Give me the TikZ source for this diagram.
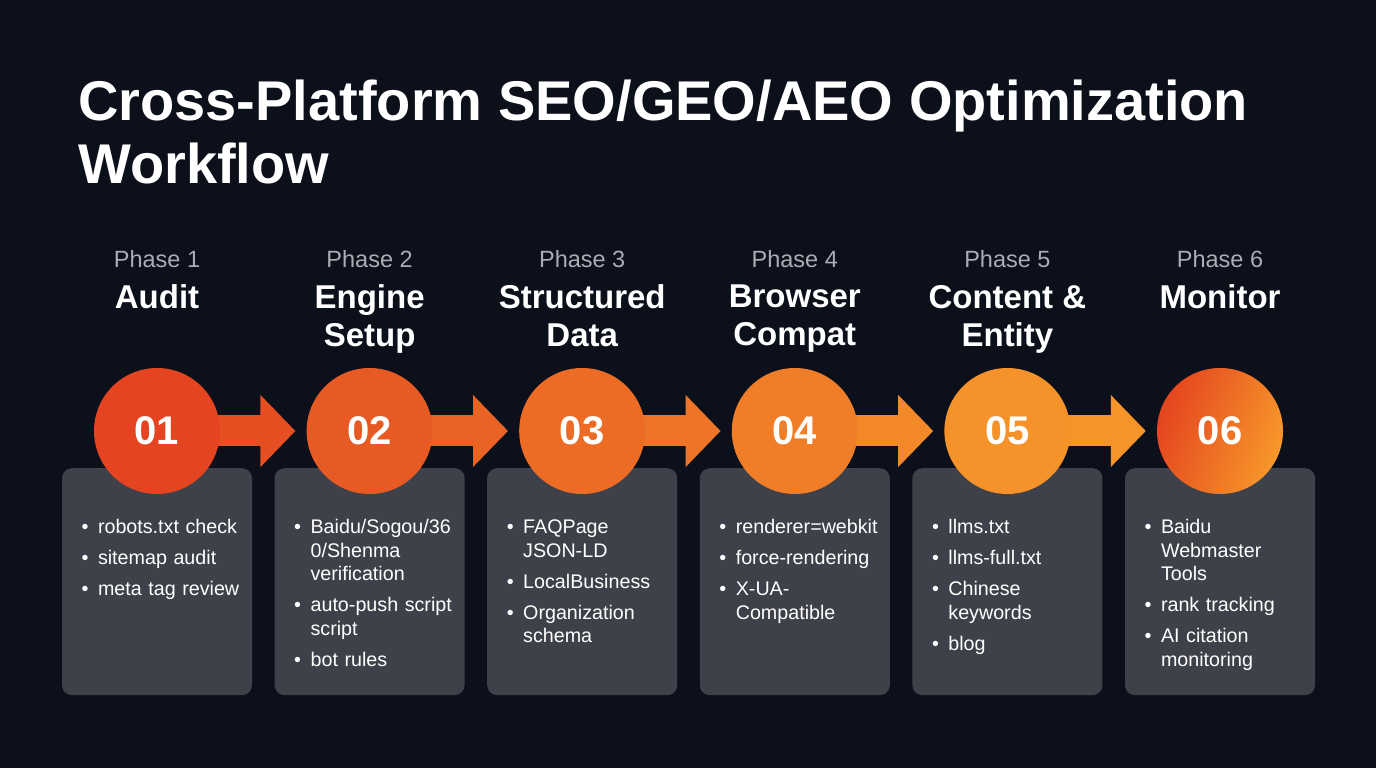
\documentclass[tikz,border=0pt]{standalone}
\usepackage{fontspec}
\setmainfont{Liberation Sans}
\usepackage{enumitem}
\usetikzlibrary{arrows.meta, positioning, backgrounds}
\definecolor{nightbg}{RGB}{12,16,27}
\definecolor{cardgrey}{RGB}{62,65,73}
\definecolor{phasegrey}{RGB}{170,173,180}
\definecolor{ornA}{RGB}{228,68,31}
\definecolor{ornB}{RGB}{232,90,36}
\definecolor{ornC}{RGB}{236,108,38}
\definecolor{ornD}{RGB}{240,126,40}
\definecolor{ornE}{RGB}{245,146,42}
\definecolor{ornF}{RGB}{247,152,42}
\newcommand{\tasklist}[1]{\raggedright\begin{itemize}[leftmargin=14pt, labelsep=9.5pt, itemsep=7.5pt, parsep=0pt, topsep=0pt, partopsep=0pt, label=\textbullet]#1\end{itemize}}

\begin{document}
\begin{tikzpicture}[
  x=1pt, y=1pt,
  node distance=86.2pt,
  stepdot/.style={circle, minimum size=126pt, inner sep=0pt, text=white, font=\fontsize{40}{40}\selectfont\bfseries},
  card/.style={rectangle, fill=cardgrey, rounded corners=10pt, minimum width=190pt, minimum height=227pt, anchor=north},
  phase/.style={text=phasegrey, inner sep=0pt, font=\fontsize{23.5}{28}\selectfont},
  stage/.style={text=white, inner sep=0pt, align=center, font=\fontsize{33}{38}\selectfont\bfseries},
  tasks/.style={text=white, inner sep=0pt, text width=170pt, align=left, anchor=north west, font=\fontsize{19.7}{23.5}\selectfont},
  flow/.style={line width=31pt, -{Triangle[length=35pt, width=70pt]}, shorten <=-5pt, shorten >=11pt},
]
  \begin{scope}[on background layer]
    \fill[nightbg] (0,0) rectangle (1376,768);
  \end{scope}

  % Title
  \node[anchor=base west, align=left, inner sep=0pt, text=white, font=\fontsize{56}{63}\selectfont\bfseries] (title) at (78,584) {Cross-Platform SEO/GEO/AEO Optimization\\Workflow};

  % Step circles
  \node[stepdot, fill=ornA] (c1) at (157,337) {01};
  \node[stepdot, fill=ornB, right=of c1] (c2) {02};
  \node[stepdot, fill=ornC, right=of c2] (c3) {03};
  \node[stepdot, fill=ornD, right=of c3] (c4) {04};
  \node[stepdot, fill=ornE, right=of c4] (c5) {05};
  \node[stepdot, left color=ornA, right color=ornF, shading angle=70, right=of c5] (c6) {06};

  % Cards and arrows behind the circles
  \begin{scope}[on background layer]
    \node[card] (b1) at ([yshift=-37pt]c1.center) {};
    \node[card] (b2) at ([yshift=-37pt]c2.center) {};
    \node[card] (b3) at ([yshift=-37pt]c3.center) {};
    \node[card] (b4) at ([yshift=-37pt]c4.center) {};
    \node[card] (b5) at ([yshift=-37pt]c5.center) {};
    \node[card] (b6) at ([yshift=-37pt]c6.center) {};

    \draw[flow, draw=ornA!50!ornB] (c1) -- (c2);
    \draw[flow, draw=ornB!50!ornC] (c2) -- (c3);
    \draw[flow, draw=ornC!50!ornD] (c3) -- (c4);
    \draw[flow, draw=ornD!50!ornE] (c4) -- (c5);
    \draw[flow, draw=ornE!60!ornF] (c5) -- (c6);
  \end{scope}

  % Phase labels
  \node[phase] (ph1) at ([yshift=172pt]c1.center) {Phase 1};
  \node[phase] (ph2) at ([yshift=172pt]c2.center) {Phase 2};
  \node[phase] (ph3) at ([yshift=172pt]c3.center) {Phase 3};
  \node[phase] (ph4) at ([yshift=172pt]c4.center) {Phase 4};
  \node[phase] (ph5) at ([yshift=172pt]c5.center) {Phase 5};
  \node[phase] (ph6) at ([yshift=172pt]c6.center) {Phase 6};

  \node[stage, below=17pt of ph1] (st1) {Audit};
  \node[stage, below=17pt of ph2] (st2) {Engine\\Setup};
  \node[stage, below=17pt of ph3] (st3) {Structured\\Data};
  \node[stage, below=17pt of ph4] (st4) {Browser\\Compat};
  \node[stage, below=17pt of ph5] (st5) {Content \&\\Entity};
  \node[stage, below=17pt of ph6] (st6) {Monitor};

  % Task lists
  \node[tasks] (t1) at ([xshift=22pt, yshift=-42pt]b1.north west) {\tasklist{
    \item robots.txt check
    \item sitemap audit
    \item meta tag review}};
  \node[tasks] (t2) at ([xshift=22pt, yshift=-42pt]b2.north west) {\tasklist{
    \item Baidu/Sogou/36\newline 0/Shenma\newline verification
    \item auto-push script\newline script
    \item bot rules}};
  \node[tasks] (t3) at ([xshift=22pt, yshift=-42pt]b3.north west) {\tasklist{
    \item FAQPage\newline JSON-LD
    \item LocalBusiness
    \item Organization\newline schema}};
  \node[tasks] (t4) at ([xshift=22pt, yshift=-42pt]b4.north west) {\tasklist{
    \item renderer=webkit
    \item force-rendering
    \item X-UA-\newline Compatible}};
  \node[tasks] (t5) at ([xshift=22pt, yshift=-42pt]b5.north west) {\tasklist{
    \item llms.txt
    \item llms-full.txt
    \item Chinese\newline keywords
    \item blog}};
  \node[tasks] (t6) at ([xshift=22pt, yshift=-42pt]b6.north west) {\tasklist{
    \item Baidu\newline Webmaster\newline Tools
    \item rank tracking
    \item AI citation\newline monitoring}};
\end{tikzpicture}
\end{document}
